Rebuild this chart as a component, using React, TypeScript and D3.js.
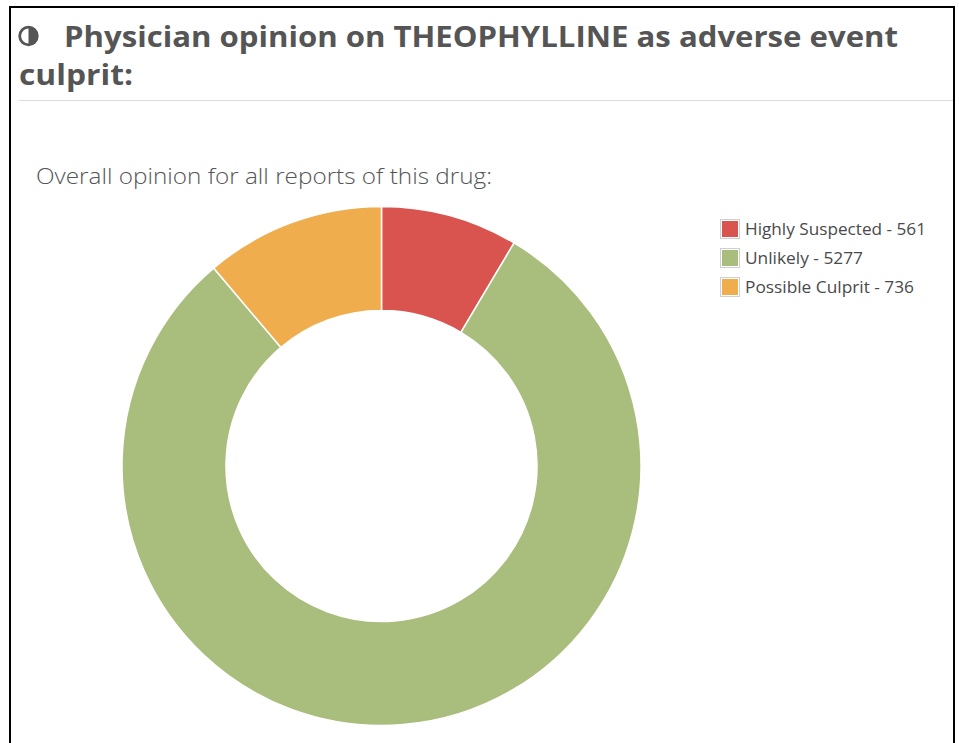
import React from "react";
import * as d3 from "d3";

const categories = ["Highly Suspected", "Unlikely", "Possible Culprit"];
const values = [561, 5277, 736];
const colors = ["#d9534f", "#a9bd7c", "#f0ad4e"];

const titleLine1 = "Physician opinion on THEOPHYLLINE as adverse event";
const titleLine2 = "culprit:";
const subtitle = "Overall opinion for all reports of this drug:";

export default function App() {
  const W = 959;
  const H = 743;
  const cx = 381.5;
  const cy = 466;
  const outerR = 259.5;
  const innerR = 155.5;

  const data = categories.map((c, i) => ({ label: c, value: values[i], color: colors[i] }));
  const pie = d3
    .pie<{ label: string; value: number; color: string }>()
    .sort(null)
    .value((d) => d.value);
  const arcs = pie(data);
  const arcGen = d3
    .arc<d3.PieArcDatum<{ label: string; value: number; color: string }>>()
    .innerRadius(innerR)
    .outerRadius(outerR);

  const legendY = d3.scaleBand<string>().domain(categories).range([214.5, 301.5]).paddingInner(0);
  const legendWidths = [181, 118, 169];

  const ic = { x: 28.5, y: 36, r: 8.8 };
  const halfPath = d3.arc()({
    innerRadius: 0,
    outerRadius: ic.r,
    startAngle: 0,
    endAngle: Math.PI,
  } as any) as string;

  return (
    <svg
      width={W}
      height={H}
      style={{ position: "absolute", left: 0, top: 0, display: "block", background: "#fff" }}
      fontFamily="'Open Sans', sans-serif"
    >
      <rect x={0} y={0} width={W} height={H} fill="#fff" />
      <path d={`M10,${H + 5} V7 H954 V${H + 5}`} fill="none" stroke="#000" strokeWidth={2} />

      <g transform={`translate(${ic.x},${ic.y})`}>
        <circle r={ic.r} fill="#fff" stroke="#555" strokeWidth={2.8} />
        <path d={halfPath} fill="#555" />
      </g>
      <text x={64} y={47} fontSize={28} fontWeight={700} fill="#555" textLength={834} lengthAdjust="spacingAndGlyphs">
        {titleLine1}
      </text>
      <text x={19} y={85} fontSize={28} fontWeight={700} fill="#555" textLength={114} lengthAdjust="spacingAndGlyphs">
        {titleLine2}
      </text>
      <line x1={19} x2={953} y1={100.5} y2={100.5} stroke="#dcdcdc" strokeWidth={1} />

      <text x={36} y={184} fontSize={22.5} fontWeight={300} fill="#555" textLength={456} lengthAdjust="spacingAndGlyphs">
        {subtitle}
      </text>

      <g transform={`translate(${cx},${cy})`}>
        {arcs.map((a, i) => (
          <path key={i} d={arcGen(a) as string} fill={a.data.color} stroke="#fff" strokeWidth={1.5} />
        ))}
      </g>

      {data.map((d, i) => {
        const y0 = legendY(d.label) as number;
        const bw = legendY.bandwidth();
        const cyRow = y0 + bw / 2;
        return (
          <g key={d.label}>
            <rect x={720.5} y={cyRow - 9.5} width={19} height={19} fill="#fff" stroke="#d0d0d0" strokeWidth={1} />
            <rect x={722} y={cyRow - 8} width={16} height={16} fill={d.color} />
            <text x={745} y={cyRow + 6} fontSize={16.5} fill="#4a4a4a" textLength={legendWidths[i]} lengthAdjust="spacingAndGlyphs">
              {`${d.label} - ${d.value}`}
            </text>
          </g>
        );
      })}
    </svg>
  );
}
